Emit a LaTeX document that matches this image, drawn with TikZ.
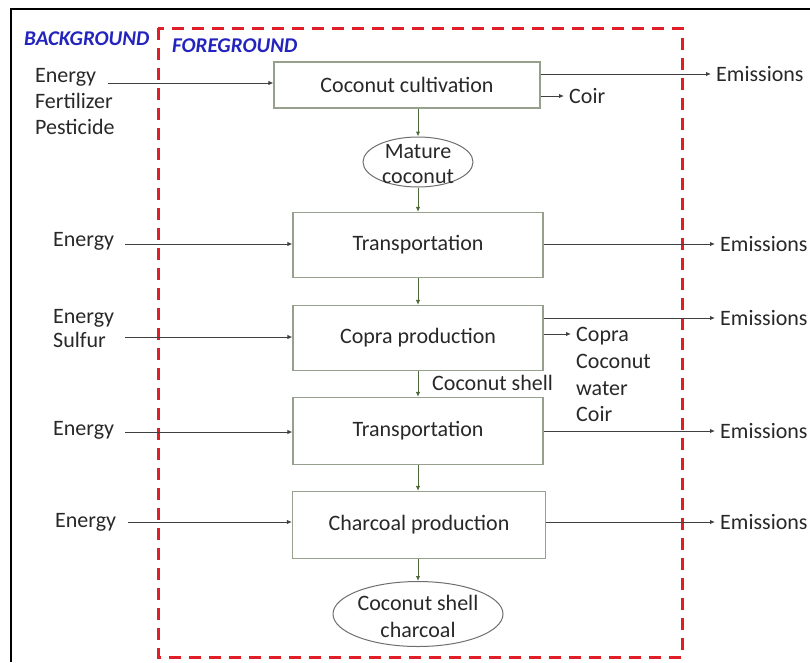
\documentclass[tikz,border=0pt]{standalone}
\usepackage{fontspec}
\setmainfont{Carlito}
\usetikzlibrary{shapes.geometric,arrows.meta}
\definecolor{boxgray}{RGB}{150,160,140}
\definecolor{ellgray}{RGB}{110,110,110}
\definecolor{arrgreen}{RGB}{75,105,55}
\definecolor{dashred}{RGB}{225,30,40}
\definecolor{labblue}{RGB}{35,35,190}
\definecolor{txt}{RGB}{40,40,40}
\tikzset{
  proc/.style={draw=boxgray, line width=1.2pt, inner sep=0pt, text=txt},
  ell/.style={ellipse, draw=ellgray, line width=1pt, inner sep=0pt},
  varrow/.style={draw=arrgreen, line width=1pt, -{Latex[length=5pt,width=4.5pt]}},
  harrow/.style={draw=black!75, line width=1pt, -{Latex[length=5pt,width=4.5pt]}},
  lbl/.style={text=txt, inner sep=0pt, anchor=west, text height=14pt, text depth=0pt},
  clbl/.style={text=txt, inner sep=0pt, text height=14pt, text depth=0pt},
  outlbl/.style={text=txt, inner xsep=5pt, inner ysep=0pt, anchor=west, text height=14pt, text depth=0pt},
  zone/.style={text=labblue, inner sep=0pt, anchor=west, font=\fontsize{21}{25}\selectfont\bfseries\itshape, text height=13.5pt, text depth=0pt}
}
\begin{document}
\begin{tikzpicture}[x=1pt,y=-1pt, font=\fontsize{22}{26}\selectfont]
\useasboundingbox (0,0) rectangle (810,662);
% outer frame
\draw[line width=2pt] (11,662) -- (11,9) -- (810,9);
% foreground boundary
\draw[dashred, line width=3pt, dash pattern=on 12pt off 8pt] (158,28) rectangle (682,657);
\node[zone] (bg) at (24,39) {BACKGROUND};
\node[zone] (fg) at (172,46) {FOREGROUND};

% process chain
\node[proc, minimum width=266pt, minimum height=46pt] (b1) at (407,85) {Coconut cultivation};
\node[ell, minimum width=110pt, minimum height=50pt] (e1) at (418,162) {};
\node[clbl] (e1a) at (418,151) {Mature};
\node[clbl] (e1b) at (418,176) {coconut};
\node[proc, minimum width=250pt, minimum height=65pt] (b2) at (418,245) {Transportation};
\node[proc, minimum width=250pt, minimum height=65pt] (b3) at (418,338) {Copra production};
\node[proc, minimum width=250pt, minimum height=67pt] (b4) at (418,431) {Transportation};
\node[proc, minimum width=253pt, minimum height=67pt] (b5) at (419,525) {Charcoal production};
\node[ell, minimum width=170pt, minimum height=65pt] (e2) at (418,614) {};
\node[clbl] (e2a) at (418,603) {Coconut shell};
\node[clbl] (e2b) at (418,630) {charcoal};

\coordinate (vx) at (418,0);
\draw[varrow] (b1.south -| vx) -- (e1.north);
\draw[varrow] (e1.south) -- (b2.north -| vx);
\draw[varrow] (b2.south -| vx) -- (b3.north -| vx);
\draw[varrow] (b3.south -| vx) -- (b4.north -| vx);
\draw[varrow] (b4.south -| vx) -- (b5.north -| vx);
\draw[varrow] (b5.south -| vx) -- (e2.north);
\node[lbl] (shell) at (432,383) {Coconut shell};

% inputs
\node[lbl] (i1a) at (35,75) {Energy};
\node[lbl] (i1b) at (35,101) {Fertilizer};
\node[lbl] (i1c) at (35,127) {Pesticide};
\coordinate (s1) at (108,83);
\draw[harrow] (s1) -- (b1.west |- s1);

\node[lbl] (i2) at (53,239) {Energy};
\coordinate (s2) at (125,244);
\draw[harrow] (s2) -- (b2.west |- s2);

\node[lbl] (i3a) at (53,316) {Energy};
\node[lbl] (i3b) at (53,340) {Sulfur};
\coordinate (s3) at (125,337);
\draw[harrow] (s3) -- (b3.west |- s3);

\node[lbl] (i4) at (53,428) {Energy};
\coordinate (s4) at (125,432);
\draw[harrow] (s4) -- (b4.west |- s4);

\node[lbl] (i5) at (55,520) {Energy};
\coordinate (s5) at (128,522);
\draw[harrow] (s5) -- (b5.west |- s5);

% outputs
\node[outlbl] (o1) at (711,74) {Emissions};
\draw[harrow] (b1.east |- o1) -- (o1.west);
\node[outlbl] (c1) at (564,96) {Coir};
\draw[harrow] (b1.east |- c1) -- (c1.west);

\node[outlbl] (o2) at (715,244) {Emissions};
\draw[harrow] (b2.east |- o2) -- (o2.west);

\node[outlbl] (o3) at (715,318) {Emissions};
\draw[harrow] (b3.east |- o3) -- (o3.west);
\node[outlbl] (p1) at (571,334) {Copra};
\draw[harrow] (b3.east |- p1) -- (p1.west);
\node[lbl] (p2) at (576,361) {Coconut};
\node[lbl] (p3) at (576,388) {water};
\node[lbl] (p4) at (576,414) {Coir};

\node[outlbl] (o4) at (715,431) {Emissions};
\draw[harrow] (b4.east |- o4) -- (o4.west);

\node[outlbl] (o5) at (715,522) {Emissions};
\draw[harrow] (b5.east |- o5) -- (o5.west);
\end{tikzpicture}
\end{document}
